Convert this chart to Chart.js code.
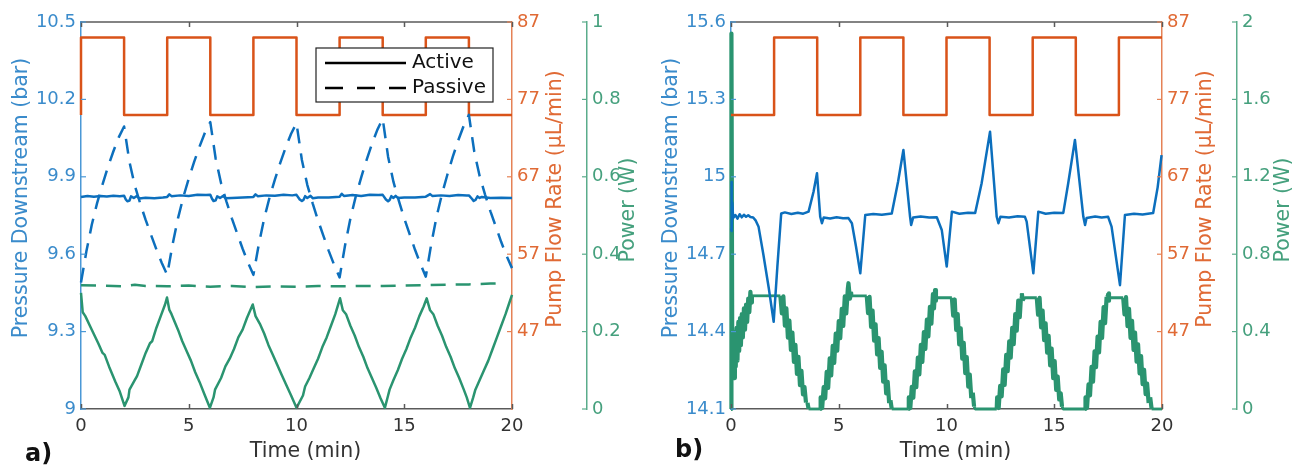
<!DOCTYPE html>
<html>
<head>
<meta charset="utf-8">
<script src="https://cdn.jsdelivr.net/npm/chart.js@4.4.1/dist/chart.umd.min.js"></script>
<style>
  body { margin: 0; background: #fff; width: 1300px; height: 466px; overflow: hidden; position: relative; }
  .panel { position: absolute; top: 0; width: 650px; height: 466px; }
  #panelA { left: 0; }
  #panelB { left: 650px; }
  .tag { position: absolute; font: bold 24px 'DejaVu Sans'; line-height: 26px; color: #111; }
</style>
</head>
<body>
<div class="panel" id="panelA"><canvas id="chartA" width="650" height="466"></canvas></div>
<div class="panel" id="panelB"><canvas id="chartB" width="650" height="466"></canvas></div>
<div class="tag" style="left:25px; top:440px;">a)</div>
<div class="tag" style="left:675px; top:436px;">b)</div>
<script>
// ---- shared axis ticks ----
const timeTicks = [0, 5, 10, 15, 20];
const pumpTicks = [47, 57, 67, 77, 87];
const pressureTicksA = [9, 9.3, 9.6, 9.9, 10.2, 10.5];
const pressureTicksB = [14.1, 14.4, 14.7, 15, 15.3, 15.6];
const powerTicksA = [0, 0.2, 0.4, 0.6, 0.8, 1];
const powerTicksB = [0, 0.4, 0.8, 1.2, 1.6, 2];

// ---- panel a: active vs passive ----
const activeTimeA = [
  0, 0.3, 0.6, 0.9, 1.2, 1.5, 1.8, 2.0, 2.08, 2.15, 2.25, 2.32, 2.45, 2.6, 2.7, 3.0, 3.4, 3.8,
  4.0, 4.1, 4.2, 4.6, 5.0, 5.4, 5.8, 6.0, 6.08, 6.15, 6.25, 6.32, 6.45, 6.6, 6.7, 7.0, 7.5,
  8.0, 8.1, 8.2, 8.6, 9.0, 9.4, 9.8, 10.0, 10.15, 10.25, 10.32, 10.4, 10.5, 10.65, 10.75, 11.0, 11.5,
  12.0, 12.1, 12.2, 12.6, 13.0, 13.4, 13.8, 14.0, 14.15, 14.25, 14.32, 14.4, 14.5, 14.6, 14.7, 15.0, 15.5,
  16.0, 16.2, 16.3, 16.7, 17.1, 17.5, 17.9, 18.0, 18.15, 18.22, 18.3, 18.4, 18.5, 18.6, 19.0, 19.5, 20.0
];
const activePressureA = [
  9.822, 9.826, 9.823, 9.826, 9.824, 9.827, 9.825, 9.827, 9.812, 9.805, 9.808, 9.824, 9.818, 9.826, 9.816, 9.819, 9.817, 9.82,
  9.822, 9.832, 9.825, 9.828, 9.826, 9.83, 9.829, 9.83, 9.815, 9.806, 9.809, 9.824, 9.818, 9.826, 9.817, 9.818, 9.82,
  9.822, 9.832, 9.825, 9.828, 9.827, 9.83, 9.828, 9.83, 9.812, 9.806, 9.81, 9.825, 9.818, 9.826, 9.817, 9.82, 9.82,
  9.823, 9.834, 9.826, 9.829, 9.826, 9.83, 9.829, 9.83, 9.812, 9.805, 9.81, 9.825, 9.818, 9.826, 9.818, 9.82, 9.82,
  9.823, 9.833, 9.826, 9.828, 9.826, 9.829, 9.828, 9.828, 9.814, 9.806, 9.81, 9.824, 9.818, 9.822, 9.818, 9.819, 9.818
];

const passiveTimeA = [
  0, 0.25, 0.5, 0.75, 1, 1.25, 1.5, 1.75, 2, 2.25, 2.5, 2.75, 3, 3.25, 3.5, 3.75,
  4, 4.25, 4.5, 4.75, 5, 5.25, 5.5, 5.75, 6, 6.25, 6.5, 6.75, 7, 7.25, 7.5, 7.75,
  8, 8.25, 8.5, 8.75, 9, 9.25, 9.5, 9.75, 10, 10.25, 10.5, 10.75, 11, 11.25, 11.5, 11.75,
  12, 12.25, 12.5, 12.75, 13, 13.25, 13.5, 13.75, 14, 14.25, 14.5, 14.75, 15, 15.25, 15.5, 15.75,
  16, 16.25, 16.5, 16.75, 17, 17.25, 17.5, 17.75, 18, 18.25, 18.5, 18.75, 19, 19.25, 19.5, 19.75, 20
];
const passivePressureA = [
  9.49, 9.611, 9.714, 9.799, 9.871, 9.938, 9.998, 10.053, 10.095, 9.957, 9.865, 9.796, 9.733, 9.675, 9.618, 9.566,
  9.52, 9.638, 9.739, 9.822, 9.893, 9.958, 10.017, 10.071, 10.112, 9.97, 9.875, 9.804, 9.739, 9.68, 9.621, 9.567,
  9.52, 9.638, 9.738, 9.82, 9.89, 9.955, 10.014, 10.067, 10.108, 9.965, 9.869, 9.797, 9.731, 9.671, 9.612, 9.558,
  9.51, 9.633, 9.738, 9.824, 9.897, 9.965, 10.027, 10.082, 10.125, 9.978, 9.88, 9.807, 9.739, 9.678, 9.617, 9.562,
  9.513, 9.638, 9.745, 9.833, 9.908, 9.977, 10.04, 10.096, 10.14, 9.997, 9.902, 9.831, 9.766, 9.707, 9.647, 9.593, 9.546
];

const activePowerTimeA = [
  0, 0.08, 0.2, 0.5, 0.8, 1.0, 1.1, 1.3, 1.6, 1.8, 2.02,
  2.2, 2.25, 2.5, 2.6, 2.8, 3.0, 3.2, 3.3, 3.5, 3.7, 3.9, 3.99,
  4.1, 4.2, 4.5, 4.7, 4.9, 5.1, 5.3, 5.5, 5.75, 5.98,
  6.15, 6.22, 6.5, 6.7, 6.9, 7.1, 7.3, 7.5, 7.7, 7.97,
  8.1, 8.3, 8.5, 8.7, 8.9, 9.1, 9.3, 9.5, 9.75, 10.0,
  10.3, 10.4, 10.6, 10.8, 11.0, 11.2, 11.4, 11.6, 11.8, 12.02,
  12.15, 12.3, 12.5, 12.7, 12.9, 13.1, 13.3, 13.5, 13.7, 13.9, 14.1,
  14.25, 14.32, 14.5, 14.7, 14.9, 15.1, 15.3, 15.5, 15.7, 15.9, 16.04,
  16.2, 16.35, 16.55, 16.75, 16.95, 17.15, 17.35, 17.55, 17.75, 17.9, 18.05,
  18.2, 18.3, 18.5, 18.7, 18.9, 19.1, 19.3, 19.5, 19.7, 19.85, 20.0
];
const activePowerA = [
  0.30, 0.25, 0.24, 0.205, 0.17, 0.145, 0.14, 0.11, 0.07, 0.045, 0.008,
  0.03, 0.05, 0.075, 0.085, 0.115, 0.145, 0.17, 0.175, 0.21, 0.24, 0.27, 0.288,
  0.256, 0.245, 0.205, 0.175, 0.15, 0.125, 0.095, 0.07, 0.035, 0.003,
  0.03, 0.05, 0.08, 0.11, 0.13, 0.155, 0.185, 0.205, 0.235, 0.27,
  0.24, 0.22, 0.195, 0.165, 0.14, 0.115, 0.09, 0.065, 0.035, 0.003,
  0.035, 0.058, 0.08, 0.105, 0.13, 0.16, 0.185, 0.215, 0.245, 0.286,
  0.255, 0.245, 0.215, 0.19, 0.16, 0.135, 0.105, 0.08, 0.055, 0.028, 0.003,
  0.035, 0.05, 0.075, 0.1, 0.13, 0.155, 0.185, 0.21, 0.24, 0.265, 0.286,
  0.255, 0.245, 0.215, 0.19, 0.16, 0.135, 0.105, 0.08, 0.052, 0.03, 0.003,
  0.03, 0.05, 0.075, 0.1, 0.125, 0.155, 0.185, 0.215, 0.245, 0.27, 0.295
];

const passivePowerTimeA = [0, 1, 2, 2.5, 3, 4, 5, 6, 7, 8, 9, 10, 11, 12, 13, 14, 15, 16, 17, 18, 19, 19.55];
const passivePowerA = [0.32, 0.319, 0.317, 0.321, 0.318, 0.317, 0.319, 0.316, 0.318, 0.315, 0.317,
  0.316, 0.318, 0.317, 0.318, 0.318, 0.319, 0.32, 0.321, 0.322, 0.324, 0.325];

const pumpTimeA = [0, 0, 2, 4, 6, 8, 10, 12, 14, 16, 18, 20];
const pumpRateA = [75, 85, 75, 85, 75, 85, 75, 85, 75, 85, 75, 75];

// ---- panel b: active control only ----
const pressureTimeB = [
  0, 0.02, 0.04, 0.06, 0.1, 0.2, 0.3, 0.4, 0.5, 0.6, 0.7, 0.8, 0.9, 1.03,
  1.15, 1.28, 1.5, 1.75, 1.98, 2.15, 2.33, 2.5, 2.8, 3.1, 3.35, 3.6, 3.83, 3.99,
  4.14, 4.22, 4.3, 4.6, 4.9, 5.2, 5.45, 5.61, 5.8, 6.0, 6.23, 6.6, 7.0, 7.46,
  7.75, 8.0, 8.31, 8.36, 8.45, 8.8, 9.2, 9.55, 9.78, 10.01, 10.25, 10.6, 11.0, 11.33,
  11.63, 12.02, 12.33, 12.41, 12.5, 12.9, 13.3, 13.64, 13.72, 14.03, 14.26, 14.6, 15.0, 15.42,
  15.65, 15.96, 16.35, 16.43, 16.5, 16.9, 17.2, 17.5, 17.66, 18.05, 18.28, 18.7, 19.1, 19.59,
  19.8, 19.98
];
const pressureB = [
  14.80, 14.98, 14.79, 14.90, 14.84, 14.852, 14.838, 14.855, 14.843, 14.853, 14.845, 14.851, 14.844, 14.842,
  14.83, 14.806, 14.70, 14.57, 14.438, 14.65, 14.858, 14.862, 14.856, 14.861, 14.857, 14.865, 14.942, 15.014,
  14.845, 14.82, 14.842, 14.838, 14.843, 14.839, 14.84, 14.82, 14.73, 14.626, 14.852, 14.856, 14.853, 14.858,
  14.98, 15.104, 14.845, 14.813, 14.842, 14.846, 14.842, 14.843, 14.794, 14.652, 14.865, 14.857, 14.861, 14.86,
  14.975, 15.175, 14.845, 14.82, 14.845, 14.842, 14.847, 14.845, 14.826, 14.626, 14.865, 14.857, 14.861, 14.86,
  14.976, 15.143, 14.845, 14.813, 14.84, 14.846, 14.842, 14.845, 14.807, 14.58, 14.852, 14.857, 14.854, 14.86,
  14.96, 15.084
];

const powerTimeB = [
  0, 0.02, 0.06, 0.1, 0.14, 0.18, 0.22, 0.26, 0.30, 0.34, 0.38, 0.42, 0.46, 0.50, 0.55, 0.60, 0.65, 0.70, 0.75, 0.80, 0.85, 0.90, 0.94, 0.97,
  2.29, 2.36, 2.43, 2.50, 2.57, 2.64, 2.71, 2.78, 2.85, 2.92, 2.99, 3.06, 3.13, 3.20, 3.27, 3.34, 3.41, 3.48, 3.55, 3.60,
  4.14, 4.16, 4.23, 4.30, 4.37, 4.44, 4.51, 4.58, 4.65, 4.72, 4.79, 4.86, 4.93, 5.00, 5.07, 5.14, 5.21, 5.28, 5.35, 5.42, 5.45, 5.52, 5.57, 5.61,
  6.30, 6.36, 6.43, 6.50, 6.57, 6.64, 6.71, 6.78, 6.85, 6.92, 6.99, 7.06, 7.13, 7.20, 7.27, 7.34, 7.40, 7.46,
  8.23, 8.25, 8.32, 8.39, 8.46, 8.53, 8.60, 8.67, 8.74, 8.81, 8.88, 8.95, 9.02, 9.09, 9.16, 9.23, 9.30, 9.37, 9.42, 9.47, 9.51, 9.55,
  10.25, 10.31, 10.38, 10.45, 10.52, 10.59, 10.66, 10.73, 10.80, 10.87, 10.94, 11.01, 11.08, 11.15, 11.22, 11.28, 11.33,
  12.33, 12.35, 12.42, 12.49, 12.56, 12.63, 12.70, 12.77, 12.84, 12.91, 12.98, 13.05, 13.12, 13.19, 13.26, 13.33, 13.40, 13.45, 13.49, 13.55, 13.64,
  14.19, 14.25, 14.32, 14.39, 14.46, 14.53, 14.60, 14.67, 14.74, 14.81, 14.88, 14.95, 15.02, 15.09, 15.16, 15.23, 15.30, 15.36, 15.42,
  16.43, 16.45, 16.52, 16.59, 16.66, 16.73, 16.80, 16.87, 16.94, 17.01, 17.08, 17.15, 17.22, 17.29, 17.36, 17.43, 17.50, 17.54, 17.58,
  18.20, 18.26, 18.33, 18.40, 18.47, 18.54, 18.61, 18.68, 18.75, 18.82, 18.89, 18.96, 19.03, 19.10, 19.17, 19.24, 19.31, 19.38, 19.45, 19.52, 20
];
const powerB = [
  0, 1.94, 0.20, 0.38, 0.16, 0.40, 0.22, 0.42, 0.25, 0.45, 0.30, 0.47, 0.33, 0.49, 0.37, 0.52, 0.41, 0.54, 0.45, 0.57, 0.50, 0.606, 0.55, 0.585,
  0.585, 0.494, 0.582, 0.431, 0.520, 0.369, 0.457, 0.306, 0.395, 0.243, 0.332, 0.181, 0.270, 0.123, 0.197, 0.076, 0.114, 0.033, 0.032, 0,
  0, 0.06, 0.005, 0.113, 0.055, 0.192, 0.109, 0.262, 0.174, 0.326, 0.238, 0.390, 0.302, 0.454, 0.366, 0.518, 0.430, 0.582, 0.494, 0.62, 0.65, 0.57, 0.60, 0.585,
  0.585, 0.495, 0.579, 0.424, 0.508, 0.353, 0.438, 0.282, 0.367, 0.212, 0.296, 0.141, 0.226, 0.081, 0.141, 0.030, 0.045, 0,
  0, 0.06, 0.005, 0.115, 0.058, 0.195, 0.113, 0.266, 0.179, 0.331, 0.244, 0.397, 0.310, 0.462, 0.375, 0.528, 0.441, 0.594, 0.520, 0.615, 0.56, 0.575,
  0.575, 0.483, 0.566, 0.409, 0.491, 0.334, 0.417, 0.260, 0.342, 0.185, 0.268, 0.116, 0.178, 0.056, 0.084, 0.012, 0,
  0, 0.06, 0.005, 0.120, 0.065, 0.205, 0.125, 0.280, 0.195, 0.350, 0.265, 0.420, 0.335, 0.490, 0.405, 0.560, 0.475, 0.57, 0.598, 0.56, 0.575,
  0.575, 0.487, 0.574, 0.422, 0.509, 0.356, 0.443, 0.291, 0.378, 0.225, 0.312, 0.160, 0.247, 0.099, 0.167, 0.049, 0.081, 0.012, 0,
  0, 0.06, 0.005, 0.127, 0.070, 0.218, 0.141, 0.298, 0.216, 0.374, 0.292, 0.450, 0.368, 0.526, 0.444, 0.580, 0.598, 0.56, 0.575,
  0.575, 0.489, 0.578, 0.428, 0.517, 0.367, 0.456, 0.306, 0.395, 0.245, 0.334, 0.184, 0.273, 0.128, 0.202, 0.077, 0.131, 0.031, 0.060, 0, 0
];

const pumpTimeB = [0, 2, 4, 6, 8, 10, 12, 14, 16, 18, 20];
const pumpRateB = [75, 85, 75, 85, 75, 85, 75, 85, 75, 85, 85];

// ---- styling ----
const BLUE = '#0c6fbd';
const ORANGE = '#d95319';
const GREEN = '#2a9470';
const BLUE_AXIS = '#4a98d6';
const ORANGE_AXIS = '#e58256';
const GREEN_AXIS = '#5aac8b';
const GRAY = '#5a5a5a';
const FONT = "'DejaVu Sans'";
const TICK_FONT = { family: FONT, size: 18 };
const TITLE_SIZE = 20.5;
const DASH = [15, 10];

const series = (xs, ys) => xs.map((x, i) => ({ x, y: ys[i] }));
const fmt = v => String(+Number(v).toFixed(2));
const useTicks = values => scale => { scale.ticks = values.map(v => ({ value: v })); };
// the noisy ramps of the heater power read as a thick band
const rampWidth = c => (Math.abs(c.p1.parsed.y - c.p0.parsed.y) > 0.03 ? 4.2 : 2.8);

function yAxis(pos, weight, min, max, ticks, color, lineColor, width) {
  return {
    type: 'linear', position: pos, weight, min, max,
    afterBuildTicks: useTicks(ticks),
    afterFit: s => { s.width = width; },
    ticks: { color, font: TICK_FONT, padding: 5, callback: fmt },
    grid: { drawOnChartArea: false, drawTicks: false },
    border: { color: lineColor, width: 1.5 },
  };
}

// inward tick marks, the top edge, axis titles and the legend box
const frame = {
  id: 'frame',
  afterDraw(chart, args, opts) {
    const { ctx, chartArea: a, scales } = chart;
    const seg = (x1, y1, x2, y2) => { ctx.beginPath(); ctx.moveTo(x1, y1); ctx.lineTo(x2, y2); ctx.stroke(); };
    ctx.save();
    ctx.lineWidth = 1.5;
    ctx.strokeStyle = GRAY;
    seg(a.left, a.top, a.right, a.top);
    scales.x.ticks.forEach(t => {
      const px = Math.round(scales.x.getPixelForValue(t.value)) + 0.5;
      seg(px, a.bottom, px, a.bottom - 5);
      seg(px, a.top, px, a.top + 5);
    });
    ctx.lineWidth = 1.2;
    ctx.strokeStyle = BLUE_AXIS;
    scales.y.ticks.forEach(t => { const py = scales.y.getPixelForValue(t.value); seg(a.left, py, a.left + 5, py); });
    ctx.strokeStyle = ORANGE_AXIS;
    scales.y1.ticks.forEach(t => { const py = scales.y1.getPixelForValue(t.value); seg(a.right, py, a.right - 5, py); });
    ctx.strokeStyle = GREEN_AXIS;
    scales.y2.ticks.forEach(t => { const py = scales.y2.getPixelForValue(t.value); seg(scales.y2.left, py, scales.y2.left - 5, py); });

    ctx.font = `${TITLE_SIZE}px ${FONT}`;
    ctx.textAlign = 'center';
    ctx.textBaseline = 'middle';
    ctx.fillStyle = '#333';
    ctx.fillText('Time (min)', (a.left + a.right) / 2 + 9, 452);
    opts.titles.forEach(t => {
      const sc = scales[t.axis];
      const x = (t.axis === 'y' ? sc.right : sc.left) + t.dx;
      ctx.save();
      ctx.translate(x, t.y);
      ctx.rotate(-Math.PI / 2);
      ctx.fillStyle = t.color;
      ctx.fillText(t.text, 0, 0);
      ctx.restore();
    });

    if (opts.legend) {
      const L = opts.legend;
      ctx.fillStyle = '#fff';
      ctx.fillRect(L.x, L.y, L.w, L.h);
      ctx.strokeStyle = '#222';
      ctx.lineWidth = 1.2;
      ctx.strokeRect(L.x, L.y, L.w, L.h);
      ctx.strokeStyle = '#000';
      ctx.lineWidth = 2.5;
      seg(L.x + 9, L.y + 15, L.x + 90, L.y + 15);
      ctx.setLineDash([18, 14]);
      seg(L.x + 9, L.y + 40, L.x + 90, L.y + 40);
      ctx.setLineDash([]);
      ctx.fillStyle = '#111';
      ctx.font = `20px ${FONT}`;
      ctx.textAlign = 'left';
      ctx.fillText('Active', L.x + 96, L.y + 15);
      ctx.fillText('Passive', L.x + 96, L.y + 40);
    }
    ctx.restore();
  }
};

function buildChart(canvasId, datasets, pressure, power, frameOpts) {
  return new Chart(document.getElementById(canvasId), {
    type: 'line',
    data: { datasets },
    options: {
      responsive: false,
      animation: false,
      layout: { padding: { top: 22, left: 0, right: 0, bottom: 0 } },
      elements: { point: { radius: 0 }, line: { tension: 0, borderWidth: 2.5, borderJoinStyle: 'round', fill: false } },
      plugins: { legend: { display: false }, tooltip: { enabled: false }, frame: frameOpts },
      scales: {
        x: {
          type: 'linear', min: 0, max: 20,
          afterBuildTicks: useTicks(timeTicks),
          afterFit: s => { s.height = 57; },
          ticks: { color: '#333', font: TICK_FONT, padding: 7, callback: fmt },
          grid: { drawOnChartArea: false, drawTicks: false },
          border: { color: GRAY, width: 1.5 },
        },
        y: yAxis('left', 0, pressure.min, pressure.max, pressure.ticks, '#3a8bcb', BLUE_AXIS, 81),
        y1: yAxis('right', 0, 37, 87, pumpTicks, '#e06a35', ORANGE_AXIS, 75),
        y2: yAxis('right', 1, 0, power.max, power.ticks, '#45a07d', GREEN_AXIS, 63),
      },
    },
    plugins: [frame],
  });
}

const titles = (greenDx) => [
  { axis: 'y', dx: -59, y: 198, text: 'Pressure Downstream (bar)', color: '#3a8bcb' },
  { axis: 'y1', dx: 44, y: 199, text: 'Pump Flow Rate (\u00b5L/min)', color: '#e06a35' },
  { axis: 'y2', dx: greenDx, y: 210, text: 'Power (W)', color: '#45a07d' },
];

buildChart('chartA', [
  { data: series(activeTimeA, activePressureA), yAxisID: 'y', borderColor: BLUE, clip: 4 },
  { data: series(passiveTimeA, passivePressureA), yAxisID: 'y', borderColor: BLUE, borderDash: DASH, clip: 4 },
  { data: series(pumpTimeA, pumpRateA), yAxisID: 'y1', borderColor: ORANGE, stepped: 'before', clip: 4 },
  { data: series(activePowerTimeA, activePowerA), yAxisID: 'y2', borderColor: GREEN, clip: 4 },
  { data: series(passivePowerTimeA, passivePowerA), yAxisID: 'y2', borderColor: GREEN, borderDash: DASH, clip: 4 },
], { min: 9, max: 10.5, ticks: pressureTicksA }, { max: 1, ticks: powerTicksA },
  { titles: titles(42), legend: { x: 316, y: 48, w: 177, h: 54 } });

buildChart('chartB', [
  { data: series(pressureTimeB, pressureB), yAxisID: 'y', borderColor: BLUE, clip: 4 },
  { data: series(pumpTimeB, pumpRateB), yAxisID: 'y1', borderColor: ORANGE, stepped: 'before', clip: 4 },
  { data: series(powerTimeB, powerB), yAxisID: 'y2', borderColor: GREEN, borderWidth: 2.8, clip: 4,
    segment: { borderWidth: rampWidth } },
], { min: 14.1, max: 15.6, ticks: pressureTicksB }, { max: 2, ticks: powerTicksB },
  { titles: titles(47), legend: null });
</script>
</body>
</html>
